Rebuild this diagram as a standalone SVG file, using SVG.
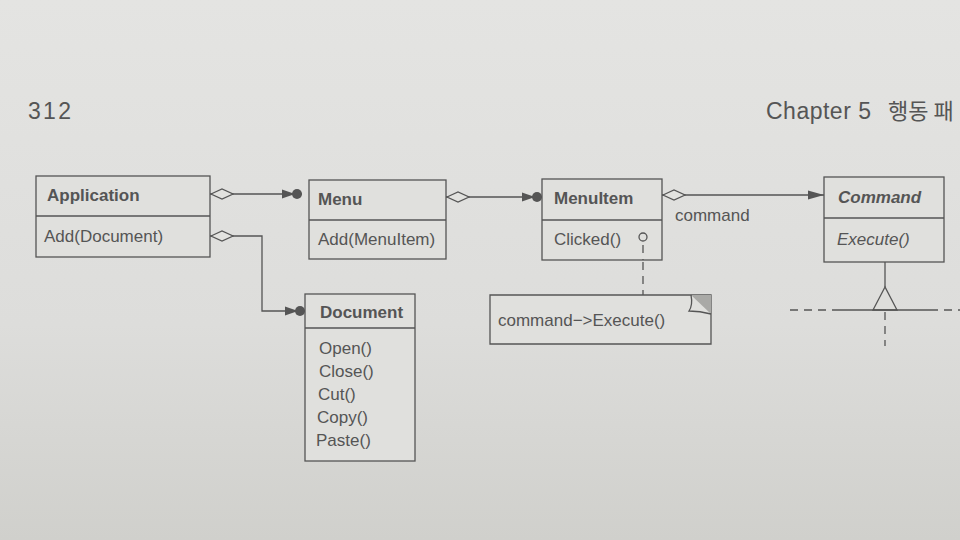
<svg xmlns="http://www.w3.org/2000/svg" width="960" height="540" viewBox="0 0 960 540">
<defs>
<linearGradient id="bg" x1="0" y1="0" x2="0" y2="1">
<stop offset="0" stop-color="#e4e4e2"/>
<stop offset="0.6" stop-color="#dddddb"/>
<stop offset="1" stop-color="#d0d0cc"/>
</linearGradient>
<marker id="dia" viewBox="0 0 24 12" refX="0" refY="6" markerWidth="24" markerHeight="12" markerUnits="userSpaceOnUse" orient="auto">
<path d="M1,6 L12,1 L23,6 L12,11 Z" fill="#e2e2df" stroke="#555" stroke-width="1.2"/>
</marker>
<marker id="arrdot" viewBox="0 0 20 12" refX="20" refY="6" markerWidth="20" markerHeight="12" markerUnits="userSpaceOnUse" orient="auto">
<path d="M0,1.5 L13,6 L0,10.5 Z" fill="#555"/>
<circle cx="15" cy="6" r="5" fill="#555"/>
</marker>
<marker id="arr" viewBox="0 0 16 10" refX="16" refY="5" markerWidth="16" markerHeight="10" markerUnits="userSpaceOnUse" orient="auto">
<path d="M0,0.5 L16,5 L0,9.5 Z" fill="#555"/>
</marker>
</defs>
<style>
.box{fill:#e0e0dd;stroke:#555;stroke-width:1.3}
.ln{fill:none;stroke:#555;stroke-width:1.3}
.dash{fill:none;stroke:#555;stroke-width:1.3;stroke-dasharray:8,6}
.t{font-family:"Liberation Sans",Arial,sans-serif;font-size:17px;fill:#555}
.b{font-weight:bold}
.i{font-style:italic}
.hdr{font-family:"Liberation Sans","Noto Sans CJK KR",sans-serif;font-size:23px;fill:#555}
</style>
<rect width="960" height="540" fill="url(#bg)"/>
<text class="hdr" x="28" y="119" textLength="43">312</text>
<text class="hdr" x="766" y="119" textLength="105">Chapter 5</text>
<text class="hdr" x="888" y="119" style="font-family:'Noto Sans CJK KR',sans-serif;font-size:22px">행동 패</text>

<g id="connectors">
<path class="ln" d="M210,194 H302" marker-start="url(#dia)" marker-end="url(#arrdot)"/>
<path class="ln" d="M210,236 H262 V311 H305" marker-start="url(#dia)" marker-end="url(#arrdot)"/>
<path class="ln" d="M446,197 H542" marker-start="url(#dia)" marker-end="url(#arrdot)"/>
<path class="ln" d="M662,195 H824" marker-start="url(#dia)" marker-end="url(#arr)"/>
<text class="t" x="675" y="221">command</text>
<path class="dash" d="M643,262 V295" stroke-dasharray="7,6"/>
<path class="ln" d="M885,262 V287"/>
<path d="M885,287 L873,310 L897,310 Z" fill="#dededb" stroke="#555" stroke-width="1.3"/>
<path class="ln" d="M832,310 H930"/>
<path class="dash" d="M790,310 H832 M930,310 H960"/>
<path class="dash" d="M885,312 V346" stroke-dasharray="6,6"/>
</g>

<g id="application">
<rect class="box" x="36" y="176" width="174" height="81"/>
<line class="ln" x1="36" y1="216" x2="210" y2="216"/>
<text class="t b" x="47" y="201">Application</text>
<text class="t" x="44" y="242">Add(Document)</text>
</g>
<g id="menu">
<rect class="box" x="309" y="180" width="137" height="79"/>
<line class="ln" x1="309" y1="220" x2="446" y2="220"/>
<text class="t b" x="318" y="205">Menu</text>
<text class="t" x="318" y="245">Add(MenuItem)</text>
</g>
<g id="menuitem">
<rect class="box" x="542" y="179" width="120" height="81"/>
<line class="ln" x1="542" y1="220" x2="662" y2="220"/>
<text class="t b" x="554" y="204">MenuItem</text>
<text class="t" x="554" y="245">Clicked()</text>
<circle cx="643" cy="237" r="4" fill="none" stroke="#555" stroke-width="1.3"/>
<path class="dash" d="M643,241 V260" stroke-dasharray="7,6" stroke-dashoffset="-4"/>
</g>
<g id="command">
<rect class="box" x="824" y="177" width="120" height="85"/>
<line class="ln" x1="824" y1="218" x2="944" y2="218"/>
<text class="t b i" x="838" y="203">Command</text>
<text class="t i" x="837" y="245">Execute()</text>
</g>
<g id="document">
<rect class="box" x="305" y="294" width="110" height="167"/>
<line class="ln" x1="305" y1="328" x2="415" y2="328"/>
<text class="t b" x="320" y="318">Document</text>
<text class="t" x="319" y="354">Open()</text>
<text class="t" x="319" y="377">Close()</text>
<text class="t" x="318" y="400">Cut()</text>
<text class="t" x="317" y="423">Copy()</text>
<text class="t" x="316" y="446">Paste()</text>
</g>
<g id="note">
<path class="box" d="M490,295 H711 V344 H490 Z"/>
<path d="M691,295 L711,295 L711,314 Z" fill="#a9a9a6"/>
<path class="ln" d="M691,295 Q693,305 689,311 Q700,311 711,314"/>
<text class="t" x="498" y="326">command−&gt;Execute()</text>
</g>
</svg>
